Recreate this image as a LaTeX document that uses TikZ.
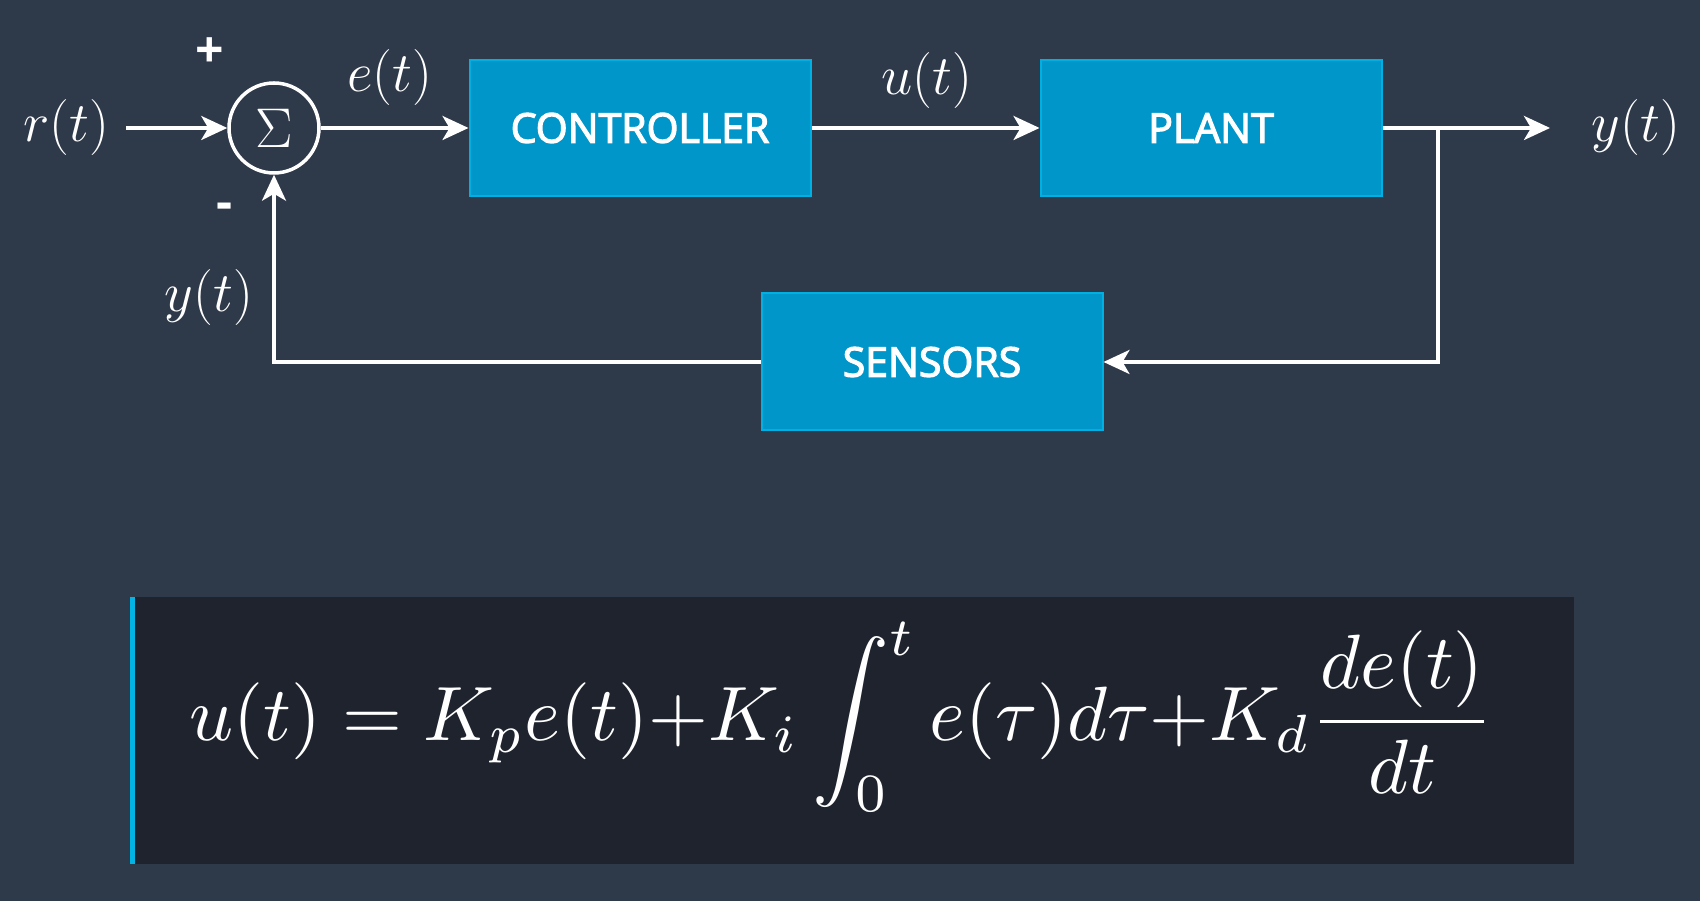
\documentclass[tikz,border=0pt]{standalone}
\usepackage{fix-cm}
\usepackage{fontspec}
\newfontfamily\blockfont{Open Sans}[FakeBold=3]
\newfontfamily\signfont{Open Sans}
\usetikzlibrary{arrows.meta,positioning}
\definecolor{bgslate}{RGB}{46,57,73}
\definecolor{blockblue}{RGB}{0,150,201}
\definecolor{blockedge}{RGB}{0,176,226}
\definecolor{eqpanel}{RGB}{30,35,45}
\definecolor{accent}{RGB}{2,179,228}
\tikzset{
  block/.style={draw=blockedge,line width=2pt,fill=blockblue,minimum width=341pt,
    minimum height=136pt,text=white,font=\blockfont\fontsize{41}{49}\selectfont},
  sig/.style={text=white,font=\fontsize{56}{67}\selectfont},
  sign/.style={text=white,font=\signfont\bfseries\fontsize{50}{60}\selectfont},
  wire/.style={draw=white,line width=3.5pt,-{Stealth[length=26pt,width=24pt,inset=7pt]}},
}
\begin{document}
\begin{tikzpicture}[x=1pt,y=1pt]
  \fill[bgslate] (0,0) rectangle (1700,901);
  \useasboundingbox (0,0) rectangle (1700,901);

  % loop
  \node[circle,draw=white,line width=3.5pt,minimum size=90pt,inner sep=0pt,sig] (sum) at (274,773) {$\Sigma$};
  \node[sig,inner sep=17pt] (r) at (66,773) {$r(t)$};
  \node[block] (ctrl) at (640,773) {CONTROLLER};
  \node[block] (plant) at (1211,773) {PLANT};
  \node[block,minimum height=137pt] (sens) at (932,539) {SENSORS};
  \coordinate (branch) at (1438,773);
  \coordinate (out) at (1550,773);
  \node[sig] (y) at (1636,773) {$y(t)$};

  \node[sign] (plus) at (210,848) {+};
  \node[sign] (minus) at (225,690) {-};
  \node[sig] (e) at (390,823) {$e(t)$};
  \node[sig] (u) at (927,820) {$u(t)$};
  \node[sig] (yfb) at (209,603) {$y(t)$};

  \draw[wire] (r) -- (sum);
  \draw[wire] (sum) -- (ctrl);
  \draw[wire] (ctrl) -- (plant);
  \draw[wire] (plant) -- (out);
  \draw[wire] (branch) |- (sens);
  \draw[wire] (sens) -| (sum);

  % PID law
  \fill[eqpanel] (130,37) rectangle (1574,304);
  \fill[accent] (130,37) rectangle (135,304);
  \node[text=white,inner sep=0pt,anchor=base west,scale=7.7] (pid) at (188,160)
    {$\displaystyle u(t) = K_p e(t){+}K_i \int_0^t e(\tau)d\tau{+}K_d\frac{de(t)}{dt}$};
\end{tikzpicture}
\end{document}
